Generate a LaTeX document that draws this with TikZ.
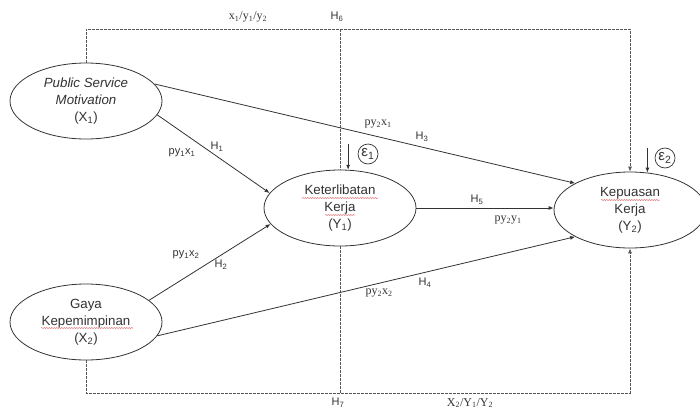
\documentclass[tikz,border=0pt]{standalone}
\usepackage{fontspec}
\setmainfont{Liberation Sans}
\newfontfamily\serifface{Liberation Serif}
\usepackage{tikz}
\usetikzlibrary{positioning, arrows.meta, shapes.geometric, decorations.pathmorphing}
\definecolor{ink}{HTML}{333333}
\definecolor{dashink}{HTML}{555555}
\definecolor{squig}{HTML}{E07A7A}

\begin{document}
\begin{tikzpicture}[
  x=1pt, y=-1pt,
  font=\fontsize{13.3}{17}\selectfont,
  latent/.style={ellipse, draw=ink, line width=0.8pt, fill=white,
                 minimum width=152pt, minimum height=76pt, inner sep=0pt,
                 align=center, text=ink},
  errnode/.style={circle, draw=ink, line width=0.7pt, inner sep=0pt,
                  minimum size=20pt, text=ink, font=\fontsize{15}{15}\selectfont},
  causal/.style={draw=ink, line width=0.8pt, -{Latex[length=5pt,width=4pt]}},
  dashline/.style={draw=dashink, line width=0.7pt, dash pattern=on 2.5pt off 1.5pt},
  tipped/.style={-{Latex[length=5pt,width=4pt]}},
  spellwave/.style={draw=squig, line width=0.5pt, decorate,
                    decoration={snake, amplitude=0.6pt, segment length=2.5pt}},
  lbl/.style={text=ink, font=\fontsize{11}{13}\selectfont, inner sep=1pt},
  slbl/.style={text=ink, font=\serifface\fontsize{12}{14}\selectfont, inner sep=1pt}
]
\useasboundingbox (0,0) rectangle (700,410);
% The four constructs
\node[latent] (X1) at (86,101)  {\textit{Public Service}\\\textit{Motivation}\\(X\textsubscript{1})};
\node[latent] (X2) at (86,322)  {Gaya\\Kepemimpinan\\(X\textsubscript{2})};
\node[latent] (Y1) at (340,208) {Keterlibatan\\Kerja\\(Y\textsubscript{1})};
\node[latent] (Y2) at (630,210) {Kepuasan\\Kerja\\(Y\textsubscript{2})};
% spell-check marks
\draw[spellwave] ([shift={(-45,6)}]X2.center) -- ([shift={(47,6)}]X2.center);
\draw[spellwave] ([shift={(-38,-10)}]Y1.center) -- ([shift={(38,-10)}]Y1.center);
\draw[spellwave] ([shift={(-15,7)}]Y1.center) -- ([shift={(15,7)}]Y1.center);
\draw[spellwave] ([shift={(-29,-10)}]Y2.center) -- ([shift={(30,-10)}]Y2.center);
% Error terms
\node[errnode] (e1) at (368,154) {ε\textsubscript{1}};
\node[errnode] (e2) at (665,158) {ε\textsubscript{2}};
\draw[causal] (Y1.78 |- e1.north) -- (Y1.78);
\draw[causal] (Y2.65 |- e2.north) -- (Y2.65);
% Mediation paths (dashed)
\coordinate (h6) at (340,29);
\coordinate (h7) at (340,393);
\draw[dashline, tipped] (X1.north) |- (h6) -| (Y2.north);
\draw[dashline] (h6) -- (Y1.north);
\draw[dashline] (Y1.south) -- (h7);
\draw[dashline, tipped] (X2.south) |- (h7) -| (Y2.south);
% Direct paths
\draw[causal] (X1.-11) -- (Y1.168);
\draw[causal] (X2.19) -- (Y1.193);
\draw[causal] (X1.14) -- (Y2.154);
\draw[causal] (X2.-11) -- (Y2.206);
\draw[causal] (Y1.east) -- (Y1.east -| Y2.west);
% Path labels
\node[lbl]  (p11) at (182,153) {py\textsubscript{1}x\textsubscript{1}};
\node[lbl]  (hh1) at (217,147) {H\textsubscript{1}};
\node[lbl]  (p12) at (186,255) {py\textsubscript{1}x\textsubscript{2}};
\node[lbl]  (hh2) at (221,265) {H\textsubscript{2}};
\node[slbl] (p21) at (378,124) {py\textsubscript{2}x\textsubscript{1}};
\node[lbl]  (hh3) at (422,137) {H\textsubscript{3}};
\node[lbl]  (hh5) at (477,200) {H\textsubscript{5}};
\node[slbl] (p2y) at (508,220) {py\textsubscript{2}y\textsubscript{1}};
\node[slbl] (p22) at (379,293) {py\textsubscript{2}x\textsubscript{2}};
\node[lbl]  (hh4) at (425,283) {H\textsubscript{4}};
\node[slbl] (top) at (248,17) {x\textsubscript{1}/y\textsubscript{1}/y\textsubscript{2}};
\node[lbl]  (hh6) at (337,17) {H\textsubscript{6}};
\node[lbl]  (hh7) at (338,403) {H\textsubscript{7}};
\node[slbl] (bot) at (470,403) {X\textsubscript{2}/Y\textsubscript{1}/Y\textsubscript{2}};
\end{tikzpicture}
\end{document}
